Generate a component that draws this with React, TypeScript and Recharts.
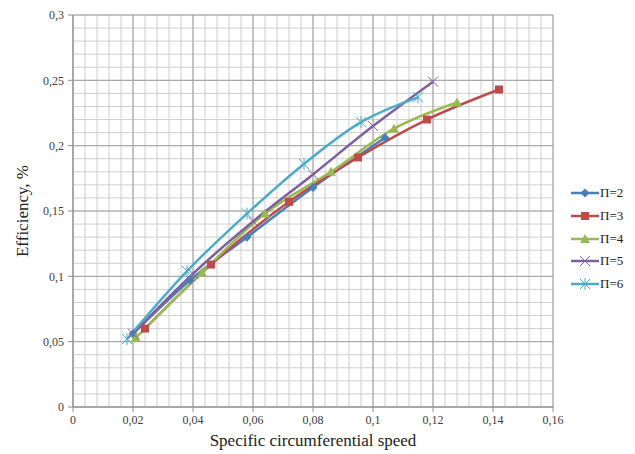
import { LineChart, Line, XAxis, YAxis, CartesianGrid, ReferenceLine } from 'recharts';

// values
const p2X = [0.02, 0.039, 0.058, 0.08, 0.104];
const p2Y = [0.056, 0.097, 0.13, 0.168, 0.206];
const p3X = [0.024, 0.046, 0.072, 0.095, 0.118, 0.142];
const p3Y = [0.06, 0.109, 0.157, 0.191, 0.22, 0.243];
const p4X = [0.021, 0.043, 0.064, 0.086, 0.107, 0.128];
const p4Y = [0.053, 0.103, 0.148, 0.18, 0.213, 0.233];
const p5X = [0.02, 0.04, 0.06, 0.08, 0.1, 0.12];
const p5Y = [0.056, 0.102, 0.142, 0.178, 0.215, 0.249];
const p6X = [0.018, 0.038, 0.058, 0.077, 0.096, 0.115];
const p6Y = [0.052, 0.104, 0.148, 0.186, 0.218, 0.237];

const seriesNames = ['Π=2', 'Π=3', 'Π=4', 'Π=5', 'Π=6'];
const xTicks = [0, 0.02, 0.04, 0.06, 0.08, 0.1, 0.12, 0.14, 0.16];
const yTicks = [0, 0.05, 0.1, 0.15, 0.2, 0.25, 0.3];

// minor grid every 0.004 on x and 0.01 on y
const xMinor = Array.from({ length: 41 }, (_, i) => +(i * 0.004).toFixed(3));
const yMinor = Array.from({ length: 31 }, (_, i) => +(i * 0.01).toFixed(2));

const colors = ['#4A7EBB', '#BE4B48', '#98B954', '#7D60A0', '#4BACC6'];

const toPts = (xs: number[], ys: number[]) => xs.map((x, i) => ({ x, y: ys[i] }));
const series = [toPts(p2X, p2Y), toPts(p3X, p3Y), toPts(p4X, p4Y), toPts(p5X, p5Y), toPts(p6X, p6Y)];

const fmt = (v: number) => String(v).replace('.', ',');
const font = "'Liberation Serif', 'Times New Roman', 'DejaVu Serif', serif";

function Marker({ kind, cx, cy, color }: { kind: number; cx: number; cy: number; color: string }) {
  if (kind === 0)
    return <polygon points={`${cx},${cy - 4.5} ${cx + 4.5},${cy} ${cx},${cy + 4.5} ${cx - 4.5},${cy}`} fill={color} />;
  if (kind === 1) return <rect x={cx - 4} y={cy - 4} width={8} height={8} fill={color} />;
  if (kind === 2)
    return <polygon points={`${cx},${cy - 5} ${cx + 5},${cy + 4} ${cx - 5},${cy + 4}`} fill={color} />;
  if (kind === 3)
    return (
      <g stroke={color} strokeWidth={1}>
        <line x1={cx - 5} y1={cy - 5} x2={cx + 5} y2={cy + 5} />
        <line x1={cx - 5} y1={cy + 5} x2={cx + 5} y2={cy - 5} />
      </g>
    );
  return (
    <g stroke={color} strokeWidth={1}>
      <line x1={cx - 5} y1={cy - 5} x2={cx + 5} y2={cy + 5} />
      <line x1={cx - 5} y1={cy + 5} x2={cx + 5} y2={cy - 5} />
      <line x1={cx} y1={cy - 6} x2={cx} y2={cy + 6} />
    </g>
  );
}

export default function App() {
  return (
    <div style={{ position: 'absolute', left: 0, top: 0, width: 635, height: 454, background: '#fff', fontFamily: font }}>
      <LineChart width={635} height={454} margin={{ top: 15, right: 82, bottom: 0, left: 0 }} style={{ fontFamily: font }}>
        <CartesianGrid stroke="#a6a6a6" horizontal={false} vertical={false} />
        {xMinor.map((v) => (
          <ReferenceLine key={'vx' + v} x={v} stroke="#cfcfcf" strokeWidth={1} />
        ))}
        {yMinor.map((v) => (
          <ReferenceLine key={'hy' + v} y={v} stroke="#cfcfcf" strokeWidth={1} />
        ))}
        {xTicks.map((v) => (
          <ReferenceLine key={'VX' + v} x={v} stroke="#a0a0a0" strokeWidth={1} />
        ))}
        {yTicks.map((v) => (
          <ReferenceLine key={'HY' + v} y={v} stroke="#a0a0a0" strokeWidth={1} />
        ))}
        <XAxis
          type="number"
          dataKey="x"
          domain={[0, 0.16]}
          ticks={xTicks}
          tickFormatter={fmt}
          allowDuplicatedCategory={false}
          height={47}
          stroke="#8c8c8c"
          tickSize={5}
          tickMargin={3}
          tick={{ fill: '#404040', fontSize: 12, style: { fontFamily: font } }}
          label={{
            content: ({ viewBox }: any) => (
              <text
                x={viewBox.x + viewBox.width / 2}
                y={446}
                textAnchor="middle"
                fontSize={17}
                style={{ fontFamily: font }}
                fill="#222"
              >
                Specific circumferential speed
              </text>
            ),
          }}
        />
        <YAxis
          type="number"
          dataKey="y"
          domain={[0, 0.3]}
          ticks={yTicks}
          tickFormatter={fmt}
          width={73}
          stroke="#8c8c8c"
          tickSize={5}
          tickMargin={4}
          tick={{ fill: '#404040', fontSize: 12, style: { fontFamily: font } }}
          label={{
            content: ({ viewBox }: any) => {
              const cx = 22;
              const cy = viewBox.y + viewBox.height / 2;
              return (
                <text
                  x={cx}
                  y={cy}
                  transform={`rotate(-90, ${cx}, ${cy})`}
                  textAnchor="middle"
                  dominantBaseline="central"
                  fontSize={17}
                  style={{ fontFamily: font }}
                  fill="#222"
                >
                  Efficiency, %
                </text>
              );
            },
          }}
        />
        {series.map((d, k) => (
          <Line
            key={seriesNames[k]}
            data={d}
            dataKey="y"
            name={seriesNames[k]}
            type="monotone"
            stroke={colors[k]}
            strokeWidth={2.5}
            isAnimationActive={false}
            dot={(p: any) => <Marker key={k + '-' + p.index} kind={k} cx={p.cx} cy={p.cy} color={colors[k]} />}
            activeDot={false}
          />
        ))}
      </LineChart>
      <div style={{ position: 'absolute', left: 571, top: 182, fontFamily: font, fontSize: 13, color: '#222' }}>
        {seriesNames.map((n, k) => (
          <div key={n} style={{ display: 'flex', alignItems: 'center', height: 22.7 }}>
            <svg width={28} height={14}>
              <line x1={0} y1={7} x2={28} y2={7} stroke={colors[k]} strokeWidth={2.5} />
              <Marker kind={k} cx={14} cy={7} color={colors[k]} />
            </svg>
            <span style={{ marginLeft: 1 }}>{n}</span>
          </div>
        ))}
      </div>
    </div>
  );
}
